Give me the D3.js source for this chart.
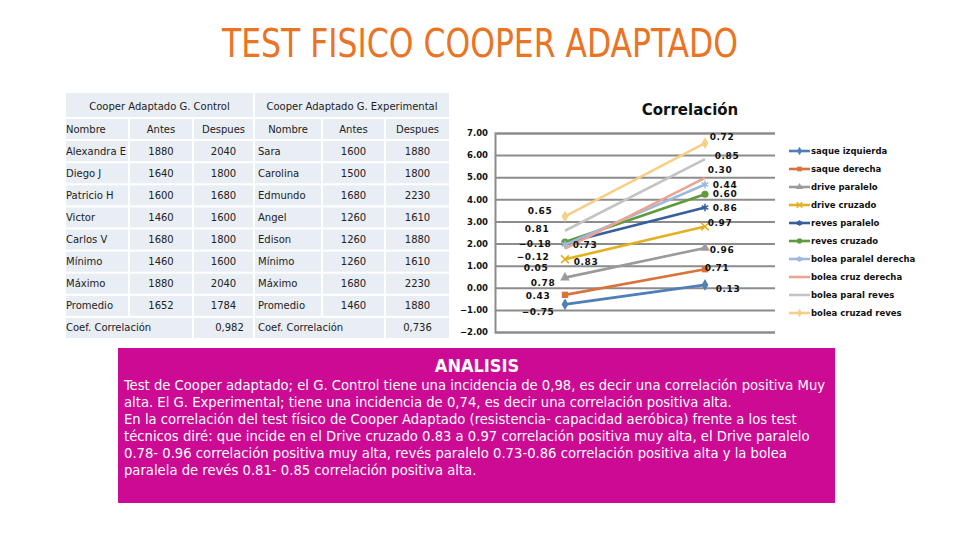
<!DOCTYPE html>
<html>
<head>
<meta charset="utf-8">
<script src="https://cdn.jsdelivr.net/npm/d3@7"></script>
<style>
  body { margin: 0; background: #fff; }
  svg { display: block; }
</style>
</head>
<body>
<svg id="chart" width="960" height="540"></svg>
<script>
// table data
const controlNames = ["Alexandra E", "Diego J", "Patricio H", "Victor", "Carlos V", "Mínimo", "Máximo", "Promedio"];
const controlAntes = [1880, 1640, 1600, 1460, 1680, 1460, 1880, 1652];
const controlDespues = [2040, 1800, 1680, 1600, 1800, 1600, 2040, 1784];
const expNames = ["Sara", "Carolina", "Edmundo", "Angel", "Edison", "Mínimo", "Máximo", "Promedio"];
const expAntes = [1600, 1500, 1680, 1260, 1260, 1260, 1680, 1460];
const expDespues = [1880, 1800, 2230, 1610, 1880, 1610, 2230, 1880];
const coefControl = "0,982";
const coefExp = "0,736";

// chart data (stacked line, two points per series)
const categories = ["1", "2"];
const seriesNames = ["saque izquierda", "saque derecha", "drive paralelo", "drive cruzado", "reves paralelo",
  "reves cruzado", "bolea paralel derecha", "bolea cruz derecha", "bolea paral reves", "bolea cruzad reves"];
const corrFirst = [-0.75, 0.43, 0.78, 0.83, 0.73, 0.05, -0.12, -0.18, 0.81, 0.65];
const corrSecond = [0.13, 0.71, 0.96, 0.97, 0.86, 0.60, 0.44, 0.30, 0.85, 0.72];

const analisisLines = [
  "Test de Cooper adaptado; el G. Control tiene una incidencia de 0,98, es decir una correlación positiva Muy",
  "alta. El G. Experimental; tiene una incidencia de 0,74, es decir una correlación positiva alta.",
  "En la correlación del test físico de Cooper Adaptado (resistencia- capacidad aeróbica) frente a los test",
  "técnicos diré: que incide en el Drive cruzado 0.83 a 0.97 correlación positiva muy alta, el Drive paralelo",
  "0.78- 0.96 correlación positiva muy alta, revés paralelo 0.73-0.86 correlación positiva alta y la bolea",
  "paralela de revés 0.81- 0.85 correlación positiva alta."
];

const svg = d3.select("#chart");

// title
svg.append("text")
  .attr("x", 480).attr("y", 57)
  .attr("text-anchor", "middle")
  .attr("font-family", "Liberation Sans Narrow, DejaVu Sans Condensed, sans-serif")
  .attr("font-size", 39)
  .attr("textLength", 516).attr("lengthAdjust", "spacingAndGlyphs")
  .attr("fill", "#ea7424")
  .text("TEST FISICO COOPER ADAPTADO");

// ---------- table ----------
const colEdges = [65, 129, 193, 254, 322, 385, 450];
const headTop = 92, headH = 26, rowH = 22.1;
const cellFill = "#e9edf4";
const tbl = svg.append("g").attr("font-family", "DejaVu Sans, Verdana, sans-serif")
  .attr("font-size", 10).attr("fill", "#222");

function cell(x0, x1, y0, h) {
  tbl.append("rect").attr("x", x0 + 1).attr("y", y0 + 1)
    .attr("width", x1 - x0 - 2).attr("height", h - 2).attr("fill", cellFill);
}
function txt(x, y, s, anchor) {
  tbl.append("text").attr("x", x).attr("y", y + 3.5)
    .attr("text-anchor", anchor || "middle").attr("fill", "#222").text(s);
}

cell(colEdges[0], colEdges[3], headTop, headH);
cell(colEdges[3], colEdges[6], headTop, headH);
txt((colEdges[0] + colEdges[3]) / 2, headTop + 14, "Cooper Adaptado G. Control");
txt((colEdges[3] + colEdges[6]) / 2, headTop + 14, "Cooper Adaptado G. Experimental");

const rowsTop = headTop + headH;
const rows = [["Nombre", "Antes", "Despues", "Nombre", "Antes", "Despues"]];
controlNames.forEach((n, i) => rows.push([n, controlAntes[i], controlDespues[i], expNames[i], expAntes[i], expDespues[i]]));

rows.forEach((r, ri) => {
  const y0 = rowsTop + ri * rowH;
  const yc = y0 + rowH / 2;
  for (let c = 0; c < 6; c++) cell(colEdges[c], colEdges[c + 1], y0, rowH);
  r.forEach((v, c) => {
    const left = (c === 0) || (c === 3 && ri > 0);
    if (left) txt(colEdges[c] + (c === 0 ? 1 : 4), yc, v, "start");
    else txt((colEdges[c] + colEdges[c + 1]) / 2, yc, v);
  });
});

// coefficient row
const yCoef = rowsTop + rows.length * rowH;
cell(colEdges[0], colEdges[2], yCoef, rowH);
cell(colEdges[2], colEdges[3], yCoef, rowH);
cell(colEdges[3], colEdges[5], yCoef, rowH);
cell(colEdges[5], colEdges[6], yCoef, rowH);
txt(colEdges[0] + 1, yCoef + rowH / 2, "Coef. Correlación", "start");
txt((colEdges[2] + colEdges[3]) / 2 + 6, yCoef + rowH / 2, coefControl);
txt(colEdges[3] + 4, yCoef + rowH / 2, "Coef. Correlación", "start");
txt((colEdges[5] + colEdges[6]) / 2, yCoef + rowH / 2, coefExp);

// ---------- stacked line chart ----------
const plot = { left: 495, right: 775, top: 133, bottom: 332 };
const x = d3.scalePoint().domain(categories).range([plot.left, plot.right]).padding(0.5);
const y = d3.scaleLinear().domain([-2, 7]).range([plot.bottom, plot.top]);

const colors = ["#4f7fb8", "#d9733a", "#9a9a9a", "#e3b120", "#365f9e", "#5f9a3c",
  "#9fb9dc", "#eaa592", "#c3c3c3", "#f8cf86"];
const symbols = [d3.symbolDiamond, d3.symbolSquare, d3.symbolTriangle, d3.symbolX, d3.symbolAsterisk,
  d3.symbolCircle, d3.symbolAsterisk, null, null, d3.symbolDiamond];
const strokeSymbols = [d3.symbolX, d3.symbolAsterisk];

// label nudges relative to the point, [first, second]
const labelNudge = [
  [[-27, 7], [23, 4]], [[-27, 1], [12, -2]], [[-22, 5], [17, 2]], [[21, 2], [15, -4]], [[20, 1], [20, 0]],
  [[-29, 25], [20, -1]], [[-32, 12], [20, 0]], [[-30, -5], [15, -8]], [[-28, -2], [22, -4]], [[-25, -6], [17, -7]]
];

const table = categories.map((c, i) => {
  const row = { cat: c };
  seriesNames.forEach((s, j) => row[s] = (i === 0 ? corrFirst : corrSecond)[j]);
  return row;
});
const stacked = d3.stack().keys(seriesNames)(table);

const chart = svg.append("g");

chart.append("text")
  .attr("x", 690).attr("y", 115)
  .attr("text-anchor", "middle")
  .attr("font-family", "DejaVu Sans, Verdana, sans-serif")
  .attr("font-weight", "bold").attr("font-size", 15)
  .attr("fill", "#111")
  .text("Correlación");

const yAxis = chart.append("g")
  .attr("transform", `translate(${plot.left},0)`)
  .call(d3.axisLeft(y).ticks(9).tickSize(-(plot.right - plot.left)).tickFormat(d3.format(".2f")));
yAxis.select(".domain").attr("stroke", "#8c8c8c").attr("stroke-width", 2);
yAxis.selectAll(".tick line").attr("stroke", "#8c8c8c").attr("stroke-width", 2);
yAxis.selectAll(".tick text")
  .attr("x", -7)
  .attr("font-family", "DejaVu Sans, Verdana, sans-serif")
  .attr("font-weight", "bold").attr("font-size", 8.5)
  .attr("fill", "#111");

const line = d3.line().x(d => x(d.data.cat)).y(d => y(d[1]));

function drawMarker(g, j, px, py, size) {
  if (!symbols[j]) return;
  const isStroke = strokeSymbols.includes(symbols[j]);
  g.append("path")
    .attr("transform", `translate(${px},${py})`)
    .attr("d", d3.symbol().type(symbols[j]).size(size)())
    .attr("fill", isStroke ? "none" : colors[j])
    .attr("stroke", isStroke ? colors[j] : "none")
    .attr("stroke-width", 1.6);
}

stacked.forEach((s, j) => {
  const g = chart.append("g");
  g.append("path").datum(s)
    .attr("d", line)
    .attr("fill", "none")
    .attr("stroke", colors[j])
    .attr("stroke-width", 2.6);
  s.forEach((d, i) => drawMarker(g, j, x(d.data.cat), y(d[1]), 40));
});

// data labels on top
const labels = chart.append("g")
  .attr("font-family", "DejaVu Sans, Verdana, sans-serif")
  .attr("font-weight", "bold").attr("font-size", 9)
  .attr("letter-spacing", 0.6)
  .attr("fill", "#111")
  .attr("text-anchor", "middle");
stacked.forEach((s, j) => {
  s.forEach((d, i) => {
    const v = (i === 0 ? corrFirst : corrSecond)[j];
    labels.append("text")
      .attr("x", x(d.data.cat) + labelNudge[j][i][0])
      .attr("y", y(d[1]) + labelNudge[j][i][1] + 3.5)
      .text(d3.format(".2f")(v));
  });
});

// legend
const legend = svg.append("g")
  .attr("font-family", "DejaVu Sans, Verdana, sans-serif")
  .attr("font-weight", "bold").attr("font-size", 8.5);
seriesNames.forEach((name, j) => {
  const ly = 151 + j * 18;
  const g = legend.append("g");
  g.append("line").attr("x1", 789).attr("x2", 810).attr("y1", ly).attr("y2", ly)
    .attr("stroke", colors[j]).attr("stroke-width", 2.6);
  drawMarker(g, j, 799.5, ly, 22);
  g.append("text").attr("x", 811).attr("y", ly + 3).attr("fill", "#111").text(name);
});

// ---------- analysis box ----------
const box = { x: 118, y: 348, w: 717, h: 155 };
svg.append("rect").attr("x", box.x).attr("y", box.y).attr("width", box.w).attr("height", box.h)
  .attr("fill", "#cc0a93");
svg.append("text")
  .attr("x", 477).attr("y", 372)
  .attr("text-anchor", "middle")
  .attr("font-family", "DejaVu Sans Condensed, sans-serif")
  .attr("font-weight", "bold")
  .attr("font-size", 18).attr("fill", "#fff")
  .text("ANALISIS");

const para = svg.append("g")
  .attr("font-family", "DejaVu Sans Condensed, sans-serif")
  .attr("fill", "#fff");
const t0 = para.append("text").attr("font-size", 13).text(analisisLines[0]);
const fs = 13 * 702 / t0.node().getComputedTextLength();
t0.remove();
analisisLines.forEach((l, i) => {
  para.append("text")
    .attr("x", 124).attr("y", 390 + i * 17)
    .attr("font-size", fs)
    .text(l);
});
</script>
</body>
</html>
